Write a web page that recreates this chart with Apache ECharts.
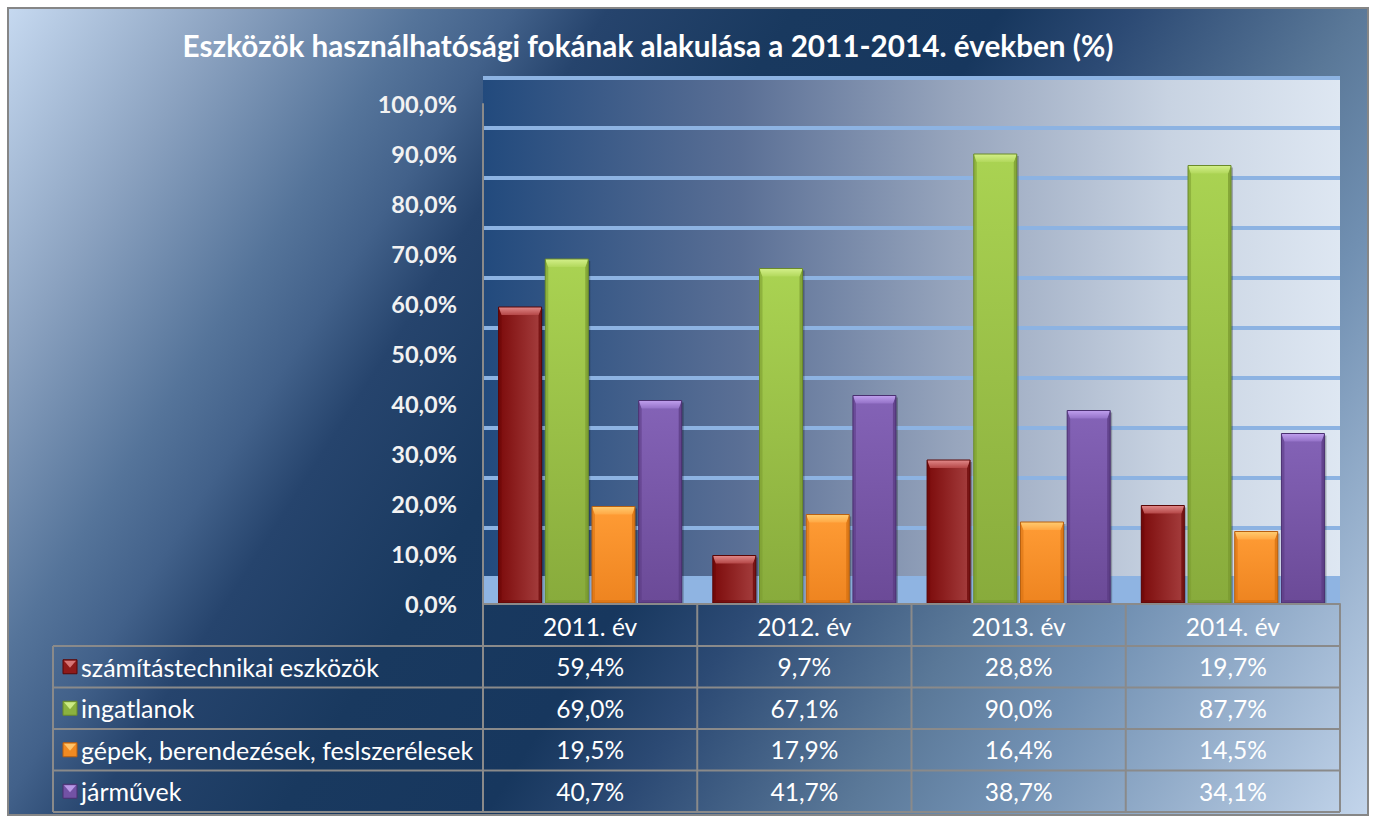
<!DOCTYPE html>
<html><head><meta charset="utf-8">
<script src="https://cdn.jsdelivr.net/npm/echarts@6/dist/echarts.min.js"></script>
<style>html,body{margin:0;padding:0;background:#ffffff}#c{width:1375px;height:819px}</style>
</head><body><div id="c"></div>
<script>
// ---- data ----
const categories = ['2011. év', '2012. év', '2013. év', '2014. év'];
const seriesNames = ['számítástechnikai eszközök', 'ingatlanok', 'gépek, berendezések, feslszerélesek', 'járművek'];
const szamitastechnikai = [59.4, 9.7, 28.8, 19.7];
const ingatlanok = [69.0, 67.1, 90.0, 87.7];
const gepek = [19.5, 17.9, 16.4, 14.5];
const jarmuvek = [40.7, 41.7, 38.7, 34.1];
const yTickLabels = ['0,0%', '10,0%', '20,0%', '30,0%', '40,0%', '50,0%', '60,0%', '70,0%', '80,0%', '90,0%', '100,0%'];
const titleText = 'Eszközök használhatósági fokának alakulása a 2011-2014. években (%)';

const seriesValues = [szamitastechnikai, ingatlanok, gepek, jarmuvek];

// ---- styles ----
const FONT = 'Lato';
const palettes = [
  { body: ['#7c0b0b', '#a53e3e'], horiz: true, bevel: ['#e28a8a', '#b54747'], side: '#6a0808', edge: '#5a0606', key: '#8e1a1a', keyLight: '#d77575' },
  { body: ['#aad352', '#88ab3c'], horiz: false, bevel: ['#d4f08a', '#b2d85c'], side: '#7a9a30', edge: '#6a8a2a', key: '#8bb23f', keyLight: '#cdeb84' },
  { body: ['#ff9c35', '#ee8420'], horiz: false, bevel: ['#ffcc70', '#ffa844'], side: '#d57010', edge: '#b86010', key: '#f08a22', keyLight: '#ffc46a' },
  { body: ['#8463b7', '#6b4a97'], horiz: false, bevel: ['#c0a0ee', '#9472c8'], side: '#5a3b82', edge: '#4a3070', key: '#7352a5', keyLight: '#b898e6' }
];

function lg(x2, y2, c0, c1) {
  return { type: 'linear', x: 0, y: 0, x2: x2, y2: y2, colorStops: [{ offset: 0, color: c0 }, { offset: 1, color: c1 }] };
}

function makeRender(s) {
  const p = palettes[s];
  return function (params, api) {
    const i = api.value(0), v = api.value(1);
    const band = api.size([1, 0])[0];
    const base = api.coord([i, 0]);
    const top = api.coord([i, v]);
    const w = band * 0.2007, pitch = band * 0.218;
    const total = 3 * pitch + w;
    const x0 = base[0] - total / 2 + s * pitch, x1 = x0 + w;
    const yT = top[1], yB = base[1] - 1;
    const h = yB - yT;
    const b = Math.min(8, h / 3), sb = 3;
    const bodyFill = p.horiz ? lg(1, 0, p.body[0], p.body[1]) : lg(0, 1, p.body[0], p.body[1]);
    return {
      type: 'group',
      children: [
        { type: 'rect', shape: { x: x0 + 2, y: yT + 2, width: w, height: h }, style: { fill: 'rgba(0,0,0,0.25)' } },
        { type: 'rect', shape: { x: x0, y: yT, width: w, height: h }, style: { fill: bodyFill } },
        { type: 'polygon', shape: { points: [[x0, yT], [x0 + sb, yT + b], [x0 + sb, yB - sb], [x0, yB]] }, style: { fill: p.side, opacity: 0.55 } },
        { type: 'polygon', shape: { points: [[x1, yT], [x1 - sb, yT + b], [x1 - sb, yB - sb], [x1, yB]] }, style: { fill: p.side, opacity: 0.75 } },
        { type: 'polygon', shape: { points: [[x0, yB], [x1, yB], [x1 - sb, yB - sb], [x0 + sb, yB - sb]] }, style: { fill: p.side, opacity: 0.6 } },
        { type: 'polygon', shape: { points: [[x0, yT], [x1, yT], [x1 - sb, yT + b], [x0 + sb, yT + b]] }, style: { fill: lg(0, 1, p.bevel[0], p.bevel[1]) } },
        { type: 'rect', shape: { x: x0, y: yT, width: w, height: h }, style: { fill: 'none', stroke: p.edge, lineWidth: 1 } }
      ]
    };
  };
}

// outer background: pixel-space gradient along direction (1.556, 1)
const outerBg = {
  type: 'linear', x: 8, y: 8, x2: 1337, y2: 862, global: true,
  colorStops: [
    { offset: 0, color: '#c6d9f0' },
    { offset: 0.12, color: '#8ba2c0' },
    { offset: 0.22, color: '#55749a' },
    { offset: 0.27, color: '#42618a' },
    { offset: 0.32, color: '#26446d' },
    { offset: 0.42, color: '#19395f' },
    { offset: 0.53, color: '#17375e' },
    { offset: 0.6, color: '#2c4a74' },
    { offset: 0.72, color: '#5a7898' },
    { offset: 0.8, color: '#7190b2' },
    { offset: 1, color: '#c3d5eb' }
  ]
};
const wallBg = {
  type: 'linear', x: 0, y: 0, x2: 1, y2: 0,
  colorStops: [
    { offset: 0, color: '#224a7d' },
    { offset: 0.3, color: '#5a6f95' },
    { offset: 0.55, color: '#97a5bd' },
    { offset: 0.8, color: '#c8d3e2' },
    { offset: 1, color: '#dee7f2' }
  ]
};

const GL = 483, GR = 35;

const option = {
  animation: false,
  title: {
    text: titleText, left: 643, top: 25, textAlign: 'center',
    textStyle: { color: '#ffffff', fontFamily: FONT, fontWeight: 'bold', fontSize: 29.7 }
  },
  grid: [
    { left: GL, right: GR, top: 104, bottom: 215, show: false },
    { left: GL, right: GR, top: 78, bottom: 241, show: true, backgroundColor: wallBg, borderWidth: 0 },
    { left: GL, right: GR, top: 578, bottom: 215, show: true, backgroundColor: '#8fb4e2', borderWidth: 0 }
  ],
  xAxis: [
    { type: 'category', gridIndex: 0, data: categories, axisLabel: { show: false }, axisTick: { show: false },
      axisLine: { show: true, lineStyle: { color: '#8a8a8a', width: 2 } }, z: 5 },
    { type: 'category', gridIndex: 1, data: categories, show: false },
    { type: 'category', gridIndex: 2, data: categories, show: false }
  ],
  yAxis: [
    { type: 'value', gridIndex: 0, min: 0, max: 100, interval: 10,
      axisLabel: { formatter: function (val) { return yTickLabels[Math.round(val / 10)]; }, color: '#f2f2f2', fontFamily: FONT, fontWeight: 'bold', fontSize: 23.5, margin: 26 },
      axisLine: { show: true, lineStyle: { color: '#8a8a8a', width: 2 } }, axisTick: { show: false }, splitLine: { show: false }, z: 5 },
    { type: 'value', gridIndex: 1, min: 0, max: 100, interval: 10,
      axisLabel: { show: false }, axisLine: { show: false }, axisTick: { show: false },
      splitLine: { show: true, lineStyle: { color: '#8db3e2', width: 4 } } },
    { type: 'value', gridIndex: 2, min: 0, max: 1, show: false, splitLine: { show: false } }
  ],
  series: seriesValues.map(function (vals, s) {
    return {
      type: 'custom', name: seriesNames[s], xAxisIndex: 0, yAxisIndex: 0, clip: false, z: 3,
      encode: { x: 0, y: 1 },
      data: vals.map(function (v, i) { return [i, v]; }),
      renderItem: makeRender(s)
    };
  }),
  graphic: [
    { type: 'rect', id: 'bg', z: -10, shape: { x: 8, y: 8, width: 1360, height: 807 },
      style: { fill: outerBg, stroke: '#868686', lineWidth: 2 }, silent: true }
  ]
};

const chart = echarts.init(document.getElementById('c'), null, { renderer: 'svg' });
chart.setOption(option);

// ---- data table built from the axis scale ----
const cx = categories.map(function (c, i) { return chart.convertToPixel({ xAxisIndex: 0 }, i); });
const band = cx[1] - cx[0];
const yBase = chart.convertToPixel({ yAxisIndex: 0 }, 0);
const xL = cx[0] - band / 2, xR = cx[cx.length - 1] + band / 2;
const tableLeft = 53, headerH = 42, rowH = 41.5;
const lineStyle = { stroke: '#8a8a8a', lineWidth: 2 };
const els = [];
function line(x1, y1, x2, y2, id) {
  els.push({ type: 'line', id: id, z: 10, silent: true, shape: { x1: x1, y1: y1, x2: x2, y2: y2 }, style: lineStyle });
}
function fmt(v) { return v.toFixed(1).replace('.', ',') + '%'; }
const yRowsTop = yBase + headerH;
const yBottom = yRowsTop + rowH * seriesNames.length;
for (let r = 0; r <= seriesNames.length; r++) {
  line(tableLeft, yRowsTop + r * rowH, xR, yRowsTop + r * rowH, 'h' + r);
}
for (let c = 0; c <= categories.length; c++) {
  const x = xL + c * band;
  line(x, yBase, x, yBottom, 'v' + c);
}
line(tableLeft, yRowsTop, tableLeft, yBottom, 'vl');
categories.forEach(function (c, i) {
  els.push({ type: 'text', id: 'hd' + i, z: 11, x: cx[i], y: yBase + headerH / 2 + 1,
    style: { text: c, fill: '#ffffff', font: '24.5px ' + FONT, textAlign: 'center', textVerticalAlign: 'middle' } });
});
seriesNames.forEach(function (name, s) {
  const yc = yRowsTop + rowH * s + rowH / 2;
  const p = palettes[s];
  const kx = 63, kw = 14;
  els.push({ type: 'rect', id: 'k' + s, z: 11, shape: { x: kx, y: yc - kw / 2, width: kw, height: kw },
    style: { fill: p.key, stroke: p.edge, lineWidth: 1 } });
  els.push({ type: 'polygon', id: 'kt' + s, z: 12, shape: { points: [[kx + 1, yc - kw / 2 + 1], [kx + kw - 1, yc - kw / 2 + 1], [kx + kw / 2, yc + 1]] },
    style: { fill: p.keyLight } });
  els.push({ type: 'text', id: 'n' + s, z: 11, x: 81, y: yc,
    style: { text: name, fill: '#ffffff', font: '25px ' + FONT, textAlign: 'left', textVerticalAlign: 'middle' } });
  seriesValues[s].forEach(function (v, i) {
    els.push({ type: 'text', id: 'c' + s + '_' + i, z: 11, x: cx[i], y: yc,
      style: { text: fmt(v), fill: '#ffffff', font: '24.5px ' + FONT, textAlign: 'center', textVerticalAlign: 'middle' } });
  });
});
chart.setOption({ graphic: option.graphic.concat(els) });
</script>
</body></html>
